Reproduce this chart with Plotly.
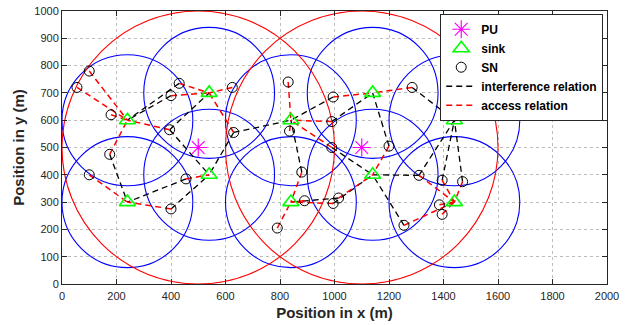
import plotly.graph_objects as go

# Primary users (PU)
pu_x = [500, 1100]
pu_y = [500, 500]
pu_radius = 500

# Sinks
sink_x = [240, 240, 540, 540, 840, 840, 1140, 1140, 1440, 1440]
sink_y = [300, 600, 400, 700, 300, 600, 400, 700, 300, 600]
sink_radius = 240

# Sensor nodes (SN)
sn_x = [100, 55, 180, 175, 100, 430, 400, 395, 625, 630, 455, 400, 830, 835, 880,
        790, 890, 995, 1015, 995, 990, 990, 1200, 1285, 1310, 1395, 1470, 1385, 1395, 1255]
sn_y = [780, 720, 620, 475, 400, 735, 690, 565, 720, 555, 385, 275, 740, 560, 410,
        205, 305, 295, 315, 685, 595, 500, 505, 720, 398, 380, 375, 290, 255, 215]

# access relation: SN index -> sink index
access_sn = list(range(30))
access_sink = [1, 1, 1, 1, 0, 3, 3, 1, 3, 3, 2, 0, 5, 5, 4,
               4, 4, 4, 6, 7, 5, 5, 6, 7, 8, 8, 8, 8, 8, 8]

# interference relation: SN index -> sink index
interf_sn = [3, 5, 6, 7, 7, 9, 9, 10, 11, 14, 17, 18, 19, 20, 21, 22, 23, 24, 24, 25, 26, 29]
interf_sink = [0, 1, 1, 3, 2, 2, 5, 0, 2, 5, 6, 4, 5, 7, 6, 7, 9, 6, 9, 9, 9, 6]

x_ticks = [0, 200, 400, 600, 800, 1000, 1200, 1400, 1600, 1800, 2000]
y_ticks = [0, 100, 200, 300, 400, 500, 600, 700, 800, 900, 1000]


def seg_lines(sn_idx, sink_idx):
    xs, ys = [], []
    for a, b in zip(sn_idx, sink_idx):
        xs += [sn_x[a], sink_x[b], None]
        ys += [sn_y[a], sink_y[b], None]
    return xs, ys


fig = go.Figure()

shapes = []
for cx, cy in zip(sink_x, sink_y):
    shapes.append(dict(type="circle", xref="x", yref="y",
                       x0=cx - sink_radius, x1=cx + sink_radius,
                       y0=cy - sink_radius, y1=cy + sink_radius,
                       line=dict(color="#0000ff", width=1.1), layer="between"))
for cx, cy in zip(pu_x, pu_y):
    shapes.append(dict(type="circle", xref="x", yref="y",
                       x0=cx - pu_radius, x1=cx + pu_radius,
                       y0=cy - pu_radius, y1=cy + pu_radius,
                       line=dict(color="#ff0000", width=1.1), layer="between"))

ix, iy = seg_lines(interf_sn, interf_sink)
ax, ay = seg_lines(access_sn, access_sink)

fig.add_trace(go.Scatter(x=ix, y=iy, mode="lines", name="interference relation",
                         line=dict(color="black", width=1.3, dash="6px,4px"),
                         legendrank=4))
fig.add_trace(go.Scatter(x=ax, y=ay, mode="lines", name="access relation",
                         line=dict(color="#ff0000", width=1.5, dash="6px,4px"),
                         legendrank=5))
fig.add_trace(go.Scatter(x=sn_x, y=sn_y, mode="markers", name="SN",
                         marker=dict(symbol="circle-open", size=10, color="black",
                                     line=dict(width=1)),
                         legendrank=3))
fig.add_trace(go.Scatter(x=sink_x, y=sink_y, mode="markers", name="sink",
                         marker=dict(symbol="triangle-up-open", size=14, color="#00ff00",
                                     line=dict(width=1.6)),
                         legendrank=2))
fig.add_trace(go.Scatter(x=pu_x, y=pu_y, mode="markers", name="PU",
                         marker=dict(symbol="asterisk-open", size=15, color="#ff00ff",
                                     line=dict(width=1.2, color="#ff00ff")),
                         legendrank=1))

axis_common = dict(
    showline=True, linecolor="#262626", linewidth=1, mirror="ticks",
    ticks="inside", ticklen=5, tickcolor="#262626",
    showgrid=True, gridcolor="#bdbdbd", griddash="dot", gridwidth=1,
    zeroline=False, automargin=False,
    tickfont=dict(family="Liberation Sans, Arial", size=11, color="#262626"),
)

fig.update_layout(
    width=627, height=325,
    margin=dict(l=62, r=20, t=11, b=41),
    paper_bgcolor="white", plot_bgcolor="white",
    shapes=shapes,
    showlegend=True,
    legend=dict(x=0.694, y=0.99, xanchor="left", yanchor="top",
                bgcolor="white", bordercolor="#262626", borderwidth=1,
                font=dict(family="Liberation Sans, Arial", size=12, color="black",
                          weight="bold"),
                tracegroupgap=0, itemwidth=30),
    xaxis=dict(range=[0, 2000], tickvals=x_ticks, ticklabelstandoff=2,
               title=dict(text="<b>Position in x (m)</b>", standoff=6,
                          font=dict(family="Liberation Sans, Arial", size=15, color="#262626")),
               **axis_common),
    yaxis=dict(range=[0, 1000], tickvals=y_ticks,
               title=dict(text="<b>Position in y (m)</b>", standoff=6,
                          font=dict(family="Liberation Sans, Arial", size=15, color="#262626")),
               **axis_common),
)

fig.write_html("out.html", config={"displayModeBar": False},
               post_script="document.body.style.margin='0';document.body.style.overflow='hidden';")
